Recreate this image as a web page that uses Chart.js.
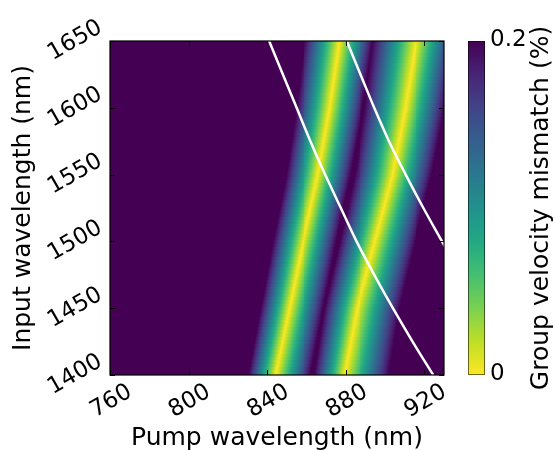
<!DOCTYPE html>
<html>
<head>
<meta charset="utf-8">
<script src="https://cdn.jsdelivr.net/npm/chart.js@4/dist/chart.umd.min.js"></script>
<style>
  html, body { margin: 0; padding: 0; background: #fff; }
  canvas { display: block; }
</style>
</head>
<body>
<canvas id="canvas" width="555" height="450"></canvas>
<script>
const ridgeRows = [1400, 1450, 1500, 1550, 1600, 1650];
const ridge1 = [844.5, 851.5, 858.5, 866, 872, 877];
const ridge2 = [879.5, 886, 895, 904, 910.5, 916];

// distance (nm) from the ridge at which the mismatch reaches 0.2 %
const widthRows = [1400, 1525, 1650];
const band1Left = [13.6, 15.5, 17.8];
const band1Right = [17.8, 16.5, 17];
const band2Left = [15.2, 18.5, 22];
const band2Right = [22.5, 20, 20];

// white curves
const curve1In = [1650, 1625, 1600, 1575, 1550, 1525, 1500, 1475, 1450, 1425, 1400];
const curve1Pump = [841, 848, 855, 862, 869.5, 877.5, 885.5, 894.5, 904, 914, 924.5];
const curve2In = [1650, 1625, 1600, 1575, 1550, 1525, 1500, 1475];
const curve2Pump = [880.5, 887.5, 894.5, 902, 910.5, 919.5, 929, 938.5];

const xTicks = [760, 800, 840, 880, 920];
const yTicks = [1400, 1450, 1500, 1550, 1600, 1650];
const cbTicks = [0, 0.2];
const cbTickLabels = ['0', '0.2'];

const GVM_MAX = 0.2;
const PUMP_STEP = 0.5;
const INPUT_STEP = 2.5;

const VIRIDIS = ['#440154', '#482475', '#414487', '#355f8d', '#2a788e', '#21918c',
    '#22a884', '#44bf70', '#7ad151', '#bddf26', '#fde725'];
const FONT = "'DejaVu Sans', sans-serif";

function hexRgb(h) {
    return [parseInt(h.slice(1, 3), 16), parseInt(h.slice(3, 5), 16), parseInt(h.slice(5, 7), 16)];
}
const viridisRgb = VIRIDIS.map(hexRgb);

// value 0 -> yellow, GVM_MAX -> dark purple (reversed viridis)
function colorFor(v) {
    let t = 1 - Math.min(Math.max(v / GVM_MAX, 0), 1);
    let f = t * (viridisRgb.length - 1);
    let i = Math.min(Math.floor(f), viridisRgb.length - 2);
    let r = f - i;
    let a = viridisRgb[i], b = viridisRgb[i + 1];
    return `rgb(${Math.round(a[0] + (b[0] - a[0]) * r)},${Math.round(a[1] + (b[1] - a[1]) * r)},${Math.round(a[2] + (b[2] - a[2]) * r)})`;
}

function lerpAt(xs, ys, x) {
    if (x <= xs[0]) return ys[0];
    for (let i = 1; i < xs.length; i++) {
        if (x <= xs[i]) {
            let r = (x - xs[i - 1]) / (xs[i] - xs[i - 1]);
            return ys[i - 1] + (ys[i] - ys[i - 1]) * r;
        }
    }
    return ys[ys.length - 1];
}

function mismatch(pump, input) {
    let bands = [
        [lerpAt(ridgeRows, ridge1, input), lerpAt(widthRows, band1Left, input), lerpAt(widthRows, band1Right, input)],
        [lerpAt(ridgeRows, ridge2, input), lerpAt(widthRows, band2Left, input), lerpAt(widthRows, band2Right, input)]
    ];
    let v = GVM_MAX;
    for (let [c, wl, wr] of bands) {
        let d = pump - c;
        let w = d < 0 ? wl : wr;
        v = Math.min(v, GVM_MAX * Math.abs(d) / w);
    }
    return v;
}

function drawRotated(ctx, text, cx, cy, angle, size) {
    ctx.save();
    ctx.translate(cx, cy);
    ctx.rotate(angle);
    ctx.font = `${size}px ${FONT}`;
    ctx.textAlign = 'center';
    ctx.textBaseline = 'alphabetic';
    ctx.fillText(text, 0, size * 0.73 / 2);
    ctx.restore();
}

const heatmapPlugin = {
    id: 'heatmap',
    beforeDatasetsDraw(chart) {
        let ctx = chart.ctx;
        let area = chart.chartArea;
        let x = chart.scales.x, y = chart.scales.y;
        ctx.save();
        ctx.beginPath();
        ctx.rect(area.left, area.top, area.right - area.left, area.bottom - area.top);
        ctx.clip();
        for (let input = y.min; input <= y.max + 1e-9; input += INPUT_STEP) {
            let y0 = Math.floor(y.getPixelForValue(input + INPUT_STEP / 2));
            let y1 = Math.ceil(y.getPixelForValue(input - INPUT_STEP / 2));
            for (let pump = x.min; pump <= x.max + 1e-9; pump += PUMP_STEP) {
                let x0 = Math.floor(x.getPixelForValue(pump - PUMP_STEP / 2));
                let x1 = Math.ceil(x.getPixelForValue(pump + PUMP_STEP / 2));
                ctx.fillStyle = colorFor(mismatch(pump, input));
                ctx.fillRect(x0, y0, x1 - x0, y1 - y0);
            }
        }
        ctx.restore();
    },
    afterDatasetsDraw(chart) {
        let ctx = chart.ctx;
        let area = chart.chartArea;
        let x = chart.scales.x, y = chart.scales.y, cb = chart.scales.cb;
        let angle = -Math.PI / 6;
        let tickSize = 23;

        ctx.save();
        // frame
        ctx.strokeStyle = '#000';
        ctx.lineWidth = 1.2;
        ctx.strokeRect(area.left, area.top, area.right - area.left, area.bottom - area.top);

        // inward ticks on all four sides
        ctx.lineWidth = 1;
        ctx.beginPath();
        for (let v of xTicks) {
            let px = Math.round(x.getPixelForValue(v)) + 0.5;
            ctx.moveTo(px, area.bottom); ctx.lineTo(px, area.bottom - 5);
            ctx.moveTo(px, area.top); ctx.lineTo(px, area.top + 5);
        }
        for (let v of yTicks) {
            let py = Math.round(y.getPixelForValue(v)) + 0.5;
            ctx.moveTo(area.left, py); ctx.lineTo(area.left + 5, py);
            ctx.moveTo(area.right, py); ctx.lineTo(area.right - 5, py);
        }
        ctx.stroke();

        // tick labels, rotated 30 degrees
        ctx.fillStyle = '#000';
        ctx.font = `${tickSize}px ${FONT}`;
        let h = tickSize * 0.73;
        for (let v of xTicks) {
            ctx.font = `${tickSize}px ${FONT}`;
            let w = ctx.measureText(String(v)).width;
            let boxH = w * 0.5 + h * 0.866;
            drawRotated(ctx, String(v), x.getPixelForValue(v), area.bottom + 6 + boxH / 2, angle, tickSize);
        }
        for (let v of yTicks) {
            ctx.font = `${tickSize}px ${FONT}`;
            let w = ctx.measureText(String(v)).width;
            let boxW = w * 0.866 + h * 0.5;
            drawRotated(ctx, String(v), area.left - 6.5 - boxW / 2, y.getPixelForValue(v) - 2.5, angle, tickSize);
        }

        // axis titles
        ctx.font = `25px ${FONT}`;
        ctx.textAlign = 'center';
        ctx.textBaseline = 'alphabetic';
        ctx.fillText('Pump wavelength (nm)', (area.left + area.right) / 2, 445);
        ctx.save();
        ctx.translate(30, (area.top + area.bottom) / 2);
        ctx.rotate(-Math.PI / 2);
        ctx.fillText('Input wavelength (nm)', 0, 0);
        ctx.restore();

        // colour bar
        let cbLeft = 468, cbRight = 485;
        let top = cb.getPixelForValue(GVM_MAX), bottom = cb.getPixelForValue(0);
        for (let py = Math.floor(top); py < Math.ceil(bottom); py++) {
            ctx.fillStyle = colorFor(cb.getValueForPixel(py + 0.5));
            ctx.fillRect(cbLeft, py, cbRight - cbLeft, 1);
        }
        ctx.strokeStyle = 'rgba(0,0,0,0.55)';
        ctx.lineWidth = 1;
        ctx.strokeRect(cbLeft + 0.5, Math.round(top) + 0.5, cbRight - cbLeft - 1, Math.round(bottom - top) - 1);

        ctx.fillStyle = '#000';
        ctx.font = `${tickSize}px ${FONT}`;
        ctx.textAlign = 'left';
        cbTicks.forEach((v, i) => {
            ctx.fillText(cbTickLabels[i], 490, cb.getPixelForValue(v) - 3 + h / 2);
        });

        ctx.font = `25px ${FONT}`;
        ctx.textAlign = 'center';
        ctx.save();
        ctx.translate(548, (top + bottom) / 2);
        ctx.rotate(-Math.PI / 2);
        ctx.fillText('Group velocity mismatch (%)', 0, 0);
        ctx.restore();

        ctx.restore();
    }
};

function toPoints(inputs, pumps) {
    return inputs.map((v, i) => ({x: pumps[i], y: v}));
}

let ctx = document.getElementById('canvas').getContext('2d');
let myChart = new Chart(ctx, {
    type: 'scatter',
    data: {
        datasets: [{
            label: 'curve 1',
            data: toPoints(curve1In, curve1Pump),
            showLine: true,
            borderColor: '#ffffff',
            borderWidth: 2.5,
            pointRadius: 0,
            cubicInterpolationMode: 'monotone'
        }, {
            label: 'curve 2',
            data: toPoints(curve2In, curve2Pump),
            showLine: true,
            borderColor: '#ffffff',
            borderWidth: 2.5,
            pointRadius: 0,
            cubicInterpolationMode: 'monotone'
        }]
    },
    options: {
        responsive: false,
        animation: false,
        devicePixelRatio: 1,
        layout: {
            padding: {left: 110, right: 111, top: 41, bottom: 75}
        },
        plugins: {
            legend: {display: false},
            tooltip: {enabled: false}
        },
        scales: {
            x: {type: 'linear', min: 760, max: 930, display: false},
            y: {type: 'linear', min: 1400, max: 1650, display: false},
            cb: {type: 'linear', axis: 'y', position: 'right', min: 0, max: GVM_MAX, display: false}
        }
    },
    plugins: [heatmapPlugin]
});
</script>
</body>
</html>
